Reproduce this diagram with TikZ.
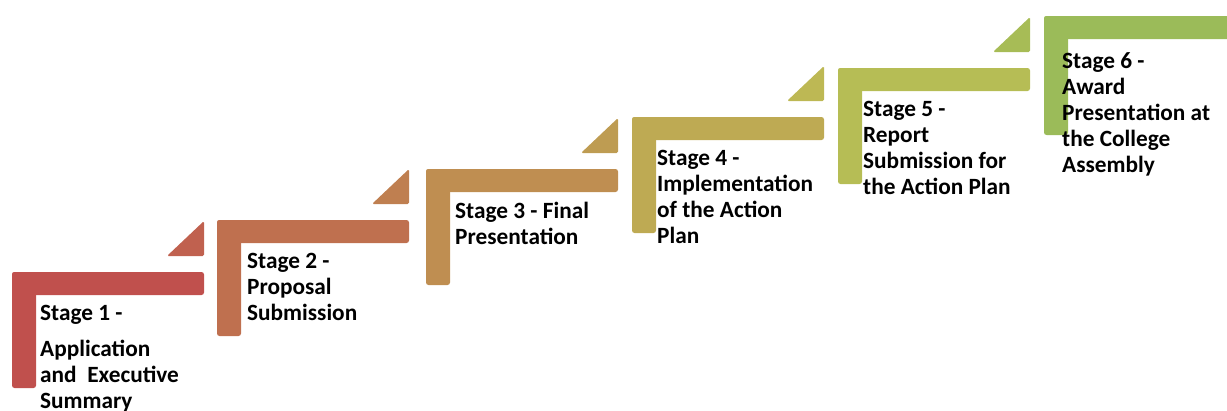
\documentclass[tikz,border=0pt]{standalone}
\usepackage{fontspec}
\setmainfont{Carlito}
\definecolor{sA}{HTML}{C0504D}
\definecolor{sB}{HTML}{BF704F}
\definecolor{sC}{HTML}{BF8E51}
\definecolor{sD}{HTML}{BEAA53}
\definecolor{sE}{HTML}{B6BD55}
\definecolor{sF}{HTML}{9BBB59}
\definecolor{tA}{HTML}{C0614F}
\definecolor{tB}{HTML}{BF7F50}
\definecolor{tC}{HTML}{BE9C52}
\definecolor{tD}{HTML}{BDB854}
\definecolor{tE}{HTML}{A7BC56}
\tikzset{
  lbl/.style={anchor=north west, inner sep=0pt, align=left, text=black,
    font=\fontsize{23.3}{26}\selectfont\bfseries},
  bar/.style={rounded corners=2.5pt}
}
% #1 x, #2 y top, #3 bar colour, #4 triangle colour
\newcommand{\stepshape}[4]{%
  \fill[#3, bar] (#1,#2) rectangle ++(192,23);
  \fill[#3, bar] (#1,#2) rectangle ++(24,116);
  \fill[#4, rounded corners=1.5pt] ($(#1,#2)+(155,-16)$) -- ++(37,0) -- ++(0,-35) -- cycle;
}
\usetikzlibrary{calc}
\begin{document}
\begin{tikzpicture}[x=1pt,y=-1pt]
\useasboundingbox (0,0) rectangle (1227,410);
\clip (0,0) rectangle (1227,410);
\stepshape{12}{272}{sA}{tA}
\stepshape{217}{220}{sB}{tB}
\stepshape{426}{169}{sC}{tC}
\stepshape{632}{117}{sD}{tD}
\stepshape{838}{68}{sE}{tE}
\fill[sF, bar] (1044,16) rectangle ++(200,23);
\fill[sF, bar] (1044,16) rectangle ++(24,119);
\node[lbl] (s1) at (40,305) {Stage 1 -\\[10pt]Application\\and\ \ Executive\\Summary};
\node[lbl] (s2) at (247,253) {Stage 2 -\\Proposal\\Submission};
\node[lbl] (s3) at (455,202) {Stage 3 - Final\\Presentation};
\node[lbl] (s4) at (657,150) {Stage 4 -\\Implementation\\of the Action\\Plan};
\node[lbl] (s5) at (863,101) {Stage 5 -\\Report\\Submission for\\the Action Plan};
\node[lbl] (s6) at (1062,52) {Stage 6 -\\Award\\Presentation at\\the College\\Assembly};
\end{tikzpicture}
\end{document}
